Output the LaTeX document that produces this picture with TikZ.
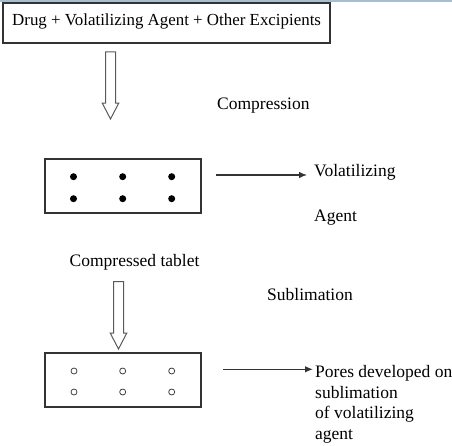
\documentclass[tikz,border=0pt]{standalone}
\usepackage{fontspec}
\setmainfont{Liberation Serif}
\usetikzlibrary{shapes.arrows,arrows.meta}

\definecolor{topline}{RGB}{168,188,212}

\tikzset{
  plain text/.style={anchor=base west, inner sep=0pt, font=\rmfamily\fontsize{17.5}{20.5}\selectfont},
  tablet/.style={draw=black!80, line width=1.2pt, minimum width=156pt, minimum height=54pt, inner sep=0pt},
  hollow down/.style={single arrow, draw=black!65, line width=1pt, rotate=-90, anchor=tail, inner sep=4.5pt,
    minimum height=67pt, single arrow head extend=3.2pt, single arrow tip angle=55},
  pointer/.style={-{Latex[length=8pt,width=6.5pt]}, line width=1.2pt, draw=black!80},
  full pore/.style={circle, fill=black, inner sep=0pt, minimum size=7pt},
  empty pore/.style={circle, draw=black!75, line width=0.8pt, inner sep=0pt, minimum size=6pt}
}

\begin{document}
\begin{tikzpicture}[x=1pt,y=-1pt]
  \useasboundingbox (0,0) rectangle (452,446);
  \draw[topline, line width=2pt] (0,0.6) -- (452,0.6);

  % Mixture
  \node[draw=black!80, line width=1.2pt, minimum width=327pt, minimum height=40pt, inner sep=0pt] (mixbox) at (166.5,23) {};
  \node[plain text, font=\rmfamily\fontsize{16.9}{19}\selectfont] (mixtext) at (12,26) {Drug + Volatilizing Agent + Other Excipients};

  % Compression
  \node[hollow down] (down1) at (110.5,51.5) {};
  \node[plain text] (compr) at (217,110) {Compression};

  % Compressed tablet
  \node[tablet] (tablet1) at (123,186) {};
  \foreach \px [count=\i] in {73.5,122.7,171.7}
    \foreach \py [count=\j] in {176.7,198.7}
      \node[full pore] (dot\i\j) at (\px,\py) {};
  \node[plain text] (vol) at (314,177) {Volatilizing};
  \node[plain text] (agent) at (314,221.5) {Agent};
  \coordinate (a1s) at (216,175);
  \draw[pointer, shorten >=7pt] (a1s) -- (a1s -| vol.west);
  \node[plain text] (tabtext) at (69.5,266.5) {Compressed tablet};

  % Sublimation
  \node[hollow down, minimum height=67.5pt] (down2) at (118.5,281) {};
  \node[plain text] (subl) at (267,300) {Sublimation};

  % Porous tablet
  \node[tablet] (tablet2) at (123,380) {};
  \foreach \px [count=\i] in {74,122.7,171.7}
    \foreach \py [count=\j] in {371,392}
      \node[empty pore] (pore\i\j) at (\px,\py) {};
  \node[plain text, anchor=north west, align=left] (pores) at (315,365.3)
    {Pores developed on\\sublimation\\of volatilizing\\agent};
  \coordinate (a2s) at (223,369.3);
  \draw[pointer, shorten >=2pt] (a2s) -- (a2s -| pores.west);
\end{tikzpicture}
\end{document}
